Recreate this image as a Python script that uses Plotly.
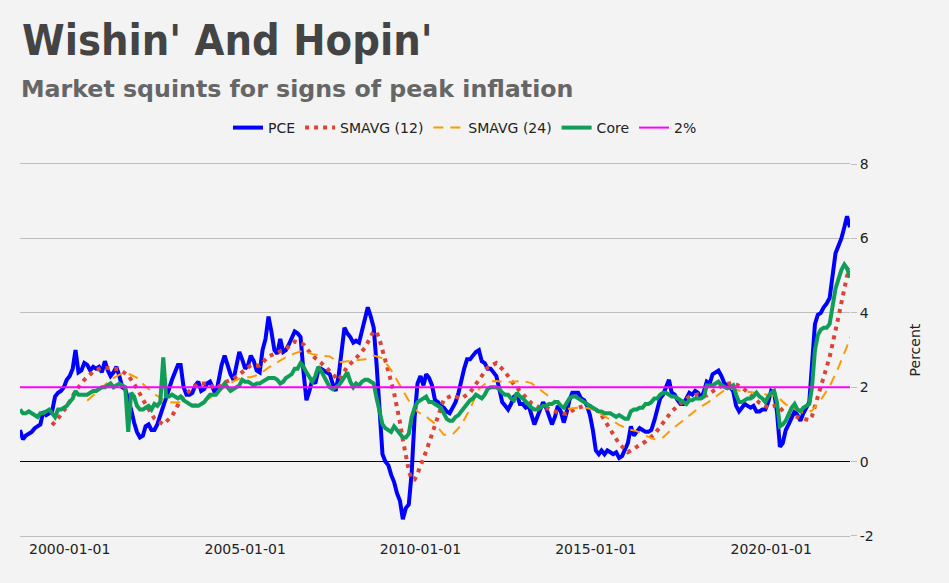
import pandas as pd
import plotly.graph_objects as go

# ---------------- data ----------------
start_month = "1998-08-01"

pce = [
    # 1998 Aug-Dec
    0.85, 0.6, 0.7, 0.75, 0.8,
    # 1999
    0.9, 0.95, 1.0, 1.35, 1.25, 1.3, 1.35, 1.75, 1.85, 1.9, 2.0, 2.2,
    # 2000
    2.3, 2.5, 3.0, 2.4, 2.45, 2.65, 2.6, 2.45, 2.55, 2.5, 2.55, 2.4,
    # 2001
    2.7, 2.45, 2.3, 2.4, 2.55, 2.3, 2.0, 1.95, 1.7, 1.4, 1.05, 0.8,
    # 2002
    0.65, 0.7, 0.95, 1.0, 0.85, 0.85, 1.0, 1.25, 1.45, 1.7, 2.0, 2.2,
    # 2003
    2.4, 2.6, 2.6, 2.0, 1.8, 1.8, 1.85, 2.05, 2.15, 1.9, 1.95, 2.1,
    # 2004
    2.15, 1.95, 1.8, 2.2, 2.6, 2.85, 2.6, 2.35, 2.2, 2.6, 2.95, 2.75,
    # 2005
    2.5, 2.6, 2.85, 2.7, 2.45, 2.4, 3.0, 3.3, 3.9, 3.5, 3.0, 2.9,
    # 2006
    3.3, 2.95, 3.0, 3.15, 3.3, 3.5, 3.45, 3.35, 2.4, 1.65, 1.9, 2.2,
    # 2007
    2.1, 2.45, 2.5, 2.45, 2.4, 2.35, 2.1, 1.9, 2.3, 3.0, 3.6, 3.45,
    # 2008
    3.35, 3.2, 3.25, 3.2, 3.5, 3.9, 4.15, 3.9, 3.6, 2.6, 1.2, 0.2,
    # 2009
    0.0, -0.1, -0.35, -0.55, -0.85, -1.05, -1.55, -1.25, -1.15, -0.3, 1.2, 2.1,
    # 2010
    2.3, 2.05, 2.35, 2.25, 2.05, 1.65, 1.6, 1.5, 1.45, 1.35, 1.3, 1.45,
    # 2011
    1.6, 1.85, 2.2, 2.5, 2.75, 2.75, 2.85, 2.95, 3.0, 2.7, 2.65, 2.5,
    # 2012
    2.5, 2.4, 2.3, 1.95, 1.6, 1.5, 1.4, 1.55, 1.75, 1.8, 1.55, 1.55,
    # 2013
    1.45, 1.5, 1.25, 1.0, 1.2, 1.4, 1.6, 1.45, 1.25, 1.0, 1.2, 1.5,
    # 2014
    1.35, 1.05, 1.3, 1.65, 1.85, 1.85, 1.85, 1.7, 1.65, 1.5, 1.25, 0.85,
    # 2015
    0.3, 0.2, 0.3, 0.2, 0.3, 0.25, 0.2, 0.25, 0.1, 0.15, 0.3, 0.5,
    # 2016
    0.95, 0.7, 0.8, 0.9, 0.85, 0.8, 0.8, 0.85, 1.1, 1.4, 1.7, 1.8,
    # 2017
    2.0, 2.2, 1.85, 1.8, 1.65, 1.55, 1.55, 1.7, 1.85, 1.8, 1.9, 1.85,
    # 2018
    1.7, 1.9, 2.15, 2.1, 2.35, 2.4, 2.45, 2.3, 2.1, 2.05, 2.0, 1.9,
    # 2019
    1.5, 1.35, 1.45, 1.55, 1.5, 1.45, 1.5, 1.35, 1.35, 1.4, 1.4, 1.6,
    # 2020
    1.9, 1.85, 1.35, 0.4, 0.5, 0.85, 1.0, 1.2, 1.35, 1.25, 1.1, 1.3,
    # 2021
    1.45, 1.6, 2.6, 3.7, 3.95, 4.0, 4.15, 4.25, 4.4, 5.1, 5.6, 5.8,
    # 2022 Jan-Apr
    6.0, 6.3, 6.6, 6.3,
]

core = [
    # 1998 Aug-Dec
    1.4, 1.3, 1.3, 1.35, 1.3,
    # 1999
    1.25, 1.2, 1.3, 1.3, 1.35, 1.4, 1.3, 1.2, 1.4, 1.4, 1.45, 1.5,
    # 2000
    1.6, 1.7, 1.9, 1.8, 1.8, 1.8, 1.8, 1.85, 1.9, 1.9, 1.95, 2.0,
    # 2001
    2.0, 2.05, 2.1, 2.0, 2.05, 2.1, 2.05, 2.0, 0.8, 1.85, 1.75, 1.5,
    # 2002
    1.4, 1.4, 1.45, 1.5, 1.4, 1.55, 1.5, 1.6, 2.8, 1.75, 1.75, 1.8,
    # 2003
    1.75, 1.7, 1.75, 1.65, 1.6, 1.55, 1.5, 1.5, 1.5, 1.55, 1.6, 1.7,
    # 2004
    1.8, 1.8, 1.8, 1.9, 2.0, 2.1, 2.0, 1.9, 1.95, 2.0, 2.05, 2.2,
    # 2005
    2.15, 2.15, 2.1, 2.05, 2.1, 2.1, 2.15, 2.2, 2.25, 2.25, 2.25, 2.2,
    # 2006
    2.1, 2.15, 2.25, 2.3, 2.35, 2.5, 2.5, 2.65, 2.55, 2.4, 2.25, 2.15,
    # 2007
    2.3, 2.55, 2.45, 2.3, 2.15, 2.0, 1.95, 2.0, 2.05, 2.15, 2.3, 2.4,
    # 2008
    2.15, 2.0, 2.1, 2.05, 2.15, 2.2, 2.2, 2.15, 2.1, 1.7, 1.3, 1.0,
    # 2009
    0.9, 0.85, 0.8, 0.95, 0.85, 0.75, 0.65, 0.65, 0.75, 1.2, 1.45, 1.6,
    # 2010
    1.65, 1.7, 1.75, 1.6, 1.6, 1.55, 1.5, 1.45, 1.3, 1.15, 1.1, 1.1,
    # 2011
    1.2, 1.25, 1.35, 1.45, 1.55, 1.65, 1.7, 1.8, 1.75, 1.7, 1.8, 1.95,
    # 2012
    2.0, 2.0, 2.0, 1.95, 1.85, 1.8, 1.8, 1.7, 1.65, 1.85, 1.75, 1.7,
    # 2013
    1.6, 1.5, 1.45, 1.4, 1.4, 1.45, 1.5, 1.5, 1.55, 1.55, 1.6, 1.6,
    # 2014
    1.5, 1.45, 1.55, 1.7, 1.75, 1.75, 1.7, 1.65, 1.6, 1.55, 1.5, 1.45,
    # 2015
    1.4, 1.35, 1.35, 1.3, 1.3, 1.3, 1.25, 1.2, 1.25, 1.2, 1.15, 1.15,
    # 2016
    1.35, 1.4, 1.4, 1.45, 1.45, 1.55, 1.55, 1.6, 1.7, 1.7, 1.8, 1.85,
    # 2017
    1.85, 1.8, 1.75, 1.75, 1.7, 1.65, 1.6, 1.55, 1.65, 1.65, 1.7, 1.7,
    # 2018
    1.7, 1.75, 2.05, 2.05, 2.05, 2.1, 2.15, 2.05, 2.0, 1.97, 2.0, 2.05,
    # 2019
    1.8, 1.6, 1.6, 1.65, 1.7, 1.7, 1.75, 1.85, 1.75, 1.7, 1.6, 1.75,
    # 2020
    1.85, 1.9, 1.6, 0.95, 1.0, 1.1, 1.3, 1.45, 1.55, 1.4, 1.35, 1.45,
    # 2021
    1.5, 1.55, 2.0, 3.0, 3.4, 3.55, 3.6, 3.6, 3.7, 4.2, 4.65, 4.9,
    # 2022 Jan-Apr
    5.15, 5.3, 5.2, 4.95,
]

sma12_dates = [
    "1999-07-01", "1999-09-01", "1999-12-01", "2000-03-01", "2000-06-01", "2000-09-01",
    "2000-12-01", "2001-03-01", "2001-06-01", "2001-09-01", "2001-12-01", "2002-03-01",
    "2002-06-01", "2002-09-01", "2002-12-01", "2003-03-01", "2003-06-01", "2003-09-01",
    "2003-12-01", "2004-03-01", "2004-06-01", "2004-09-01", "2004-12-01", "2005-03-01",
    "2005-06-01", "2005-09-01", "2005-12-01", "2006-03-01", "2006-06-01", "2006-09-01",
    "2006-12-01", "2007-03-01", "2007-06-01", "2007-09-01", "2007-12-01", "2008-03-01",
    "2008-06-01", "2008-09-01", "2008-10-01", "2008-11-01", "2008-12-01", "2009-01-01",
    "2009-02-01", "2009-03-01", "2009-04-01", "2009-05-01", "2009-06-01", "2009-07-01",
    "2009-08-01", "2009-09-01", "2009-10-01", "2009-11-01", "2009-12-01", "2010-01-01",
    "2010-02-01", "2010-03-01", "2010-04-01", "2010-05-01", "2010-06-01", "2010-09-01",
    "2010-12-01", "2011-03-01", "2011-06-01", "2011-09-01", "2011-12-01", "2012-03-01",
    "2012-06-01", "2012-09-01", "2012-12-01", "2013-03-01", "2013-06-01", "2013-09-01",
    "2013-12-01", "2014-03-01", "2014-06-01", "2014-09-01", "2014-12-01", "2015-03-01",
    "2015-06-01", "2015-09-01", "2015-12-01", "2016-03-01", "2016-06-01", "2016-09-01",
    "2016-12-01", "2017-03-01", "2017-06-01", "2017-09-01", "2017-12-01", "2018-03-01",
    "2018-06-01", "2018-09-01", "2018-12-01", "2019-03-01", "2019-06-01", "2019-09-01",
    "2019-12-01", "2020-03-01", "2020-06-01", "2020-09-01", "2020-12-01", "2021-02-01",
    "2021-03-01", "2021-06-01", "2021-09-01", "2021-12-01", "2022-03-01", "2022-04-01",
]
sma12 = [
    0.98, 1.16, 1.48, 1.90, 2.20, 2.42,
    2.53, 2.50, 2.48, 2.32, 1.97, 1.54,
    1.16, 1.00, 1.22, 1.66, 1.90, 2.10,
    2.10, 1.96, 2.13, 2.22, 2.42, 2.59,
    2.58, 2.83, 2.93, 3.03, 3.23, 3.15,
    2.85, 2.66, 2.43, 2.19, 2.55, 2.78,
    3.06, 3.51, 3.48, 3.28, 3.00, 2.73,
    2.45, 2.15, 1.84, 1.48, 1.06, 0.59,
    0.16, -0.24, -0.48, -0.48, -0.32, -0.13,
    0.05, 0.28, 0.51, 0.75, 0.98, 1.68,
    1.78, 1.69, 1.86, 2.21, 2.53, 2.65,
    2.41, 2.07, 1.82, 1.57, 1.45, 1.42,
    1.32, 1.28, 1.42, 1.50, 1.49, 1.25,
    0.86, 0.48, 0.25, 0.39, 0.54, 0.73,
    1.05, 1.35, 1.56, 1.75, 1.81, 1.78,
    1.94, 2.08, 2.12, 2.00, 1.80, 1.58,
    1.45, 1.52, 1.29, 1.23, 1.17, 1.11,
    1.22, 2.04, 2.81, 3.88, 4.99, 5.20,
]

sma24_dates = [
    "2000-07-01", "2000-09-01", "2000-12-01", "2001-03-01", "2001-06-01", "2001-09-01",
    "2001-12-01", "2002-03-01", "2002-06-01", "2002-09-01", "2002-12-01", "2003-03-01",
    "2003-06-01", "2003-09-01", "2003-12-01", "2004-03-01", "2004-06-01", "2004-09-01",
    "2004-12-01", "2005-03-01", "2005-06-01", "2005-09-01", "2005-12-01", "2006-03-01",
    "2006-06-01", "2006-09-01", "2006-12-01", "2007-03-01", "2007-06-01", "2007-09-01",
    "2007-12-01", "2008-03-01", "2008-06-01", "2008-09-01", "2008-12-01", "2009-03-01",
    "2009-06-01", "2009-09-01", "2009-12-01", "2010-03-01", "2010-06-01", "2010-09-01",
    "2010-12-01", "2011-03-01", "2011-06-01", "2011-09-01", "2011-12-01", "2012-03-01",
    "2012-06-01", "2012-09-01", "2012-12-01", "2013-03-01", "2013-06-01", "2013-09-01",
    "2013-12-01", "2014-03-01", "2014-06-01", "2014-09-01", "2014-12-01", "2015-03-01",
    "2015-06-01", "2015-09-01", "2015-12-01", "2016-03-01", "2016-06-01", "2016-09-01",
    "2016-12-01", "2017-03-01", "2017-06-01", "2017-09-01", "2017-12-01", "2018-03-01",
    "2018-06-01", "2018-09-01", "2018-12-01", "2019-03-01", "2019-06-01", "2019-09-01",
    "2019-12-01", "2020-03-01", "2020-06-01", "2020-09-01", "2020-12-01", "2021-03-01",
    "2021-06-01", "2021-09-01", "2021-12-01", "2022-03-01", "2022-04-01",
]
sma24 = [
    1.64, 1.79, 2.01, 2.20, 2.34, 2.37,
    2.25, 2.02, 1.82, 1.66, 1.59, 1.60,
    1.53, 1.55, 1.66, 1.81, 2.01, 2.16,
    2.26, 2.27, 2.35, 2.53, 2.67, 2.81,
    2.91, 2.99, 2.89, 2.85, 2.83, 2.67,
    2.70, 2.72, 2.75, 2.85, 2.78, 2.46,
    2.06, 1.64, 1.34, 1.21, 1.02, 0.72,
    0.73, 0.98, 1.42, 1.95, 2.15, 2.17,
    2.13, 2.14, 2.17, 2.11, 1.93, 1.74,
    1.57, 1.42, 1.44, 1.46, 1.40, 1.26,
    1.14, 0.99, 0.87, 0.82, 0.70, 0.60,
    0.65, 0.87, 1.05, 1.24, 1.43, 1.57,
    1.75, 1.92, 1.96, 1.89, 1.87, 1.83,
    1.78, 1.76, 1.54, 1.41, 1.31, 1.37,
    1.66, 2.02, 2.53, 3.10, 3.35,
]

target_level = 2

series_names = ["PCE", "SMAVG (12)", "SMAVG (24)", "Core", "2%"]
title_text = "Wishin' And Hopin'"
subtitle_text = "Market squints for signs of peak inflation"
y_title = "Percent"
y_tickvals = [-2, 0, 2, 4, 6, 8]
y_ticktext = ["-2", "0", "2", "4", "6", "8"]

# ---------------- figure ----------------
dates = pd.date_range(start_month, periods=len(pce), freq="MS")
bg = "#f3f3f3"
grid = "#bdbdbd"

fig = go.Figure()
fig.add_trace(go.Scatter(x=dates, y=pce, mode="lines", name=series_names[0],
                         line=dict(color="#0000ff", width=4)))
fig.add_trace(go.Scatter(x=pd.to_datetime(sma12_dates), y=sma12, mode="lines",
                         name=series_names[1],
                         line=dict(color="#db4437", width=4, dash="4px,5px")))
fig.add_trace(go.Scatter(x=pd.to_datetime(sma24_dates), y=sma24, mode="lines",
                         name=series_names[2],
                         line=dict(color="#ff9900", width=2, dash="10px,7px")))
fig.add_trace(go.Scatter(x=dates, y=core, mode="lines", name=series_names[3],
                         line=dict(color="#0f9d58", width=4)))
fig.add_trace(go.Scatter(x=dates, y=[target_level] * len(dates), mode="lines",
                         name=series_names[4],
                         line=dict(color="#ff00ff", width=2)))

fig.update_layout(
    width=949, height=583,
    margin=dict(l=20, r=99, t=161, b=47),
    paper_bgcolor=bg, plot_bgcolor=bg,
    font=dict(family="DejaVu Sans", size=14, color="#222"),
    title=dict(text=title_text, xref="container", yref="container",
               x=22 / 949, xanchor="left", y=1 - 40 / 583, yanchor="middle",
               font=dict(family="DejaVu Sans Condensed, DejaVu Sans", size=43,
                         color="#444", weight="bold")),
    legend=dict(orientation="h", xref="container", yref="container",
                x=0.49, xanchor="center", y=1 - 128 / 583, yanchor="middle",
                font=dict(size=14, color="#222"), bgcolor="rgba(0,0,0,0)",
                itemwidth=30),
    annotations=[dict(text=subtitle_text, xref="paper", yref="paper",
                      x=-1 / 830, xanchor="left", y=(536 - 85) / 375, yanchor="middle",
                      showarrow=False,
                      font=dict(family="DejaVu Sans", size=23.7,
                                color="#666", weight="bold"))],
    showlegend=True,
    hovermode=False,
)
fig.update_xaxes(type="date", range=[dates[0], dates[-1]], tickformat="%Y-%m-%d",
                 dtick="M60", tick0="2000-01-01", showgrid=False, zeroline=False,
                 showline=True, mirror=True, linecolor=grid, linewidth=1,
                 ticks="", tickfont=dict(size=14, color="#222"))
fig.update_yaxes(side="right", range=[-2, 8], tickvals=y_tickvals, ticktext=y_ticktext,
                 showgrid=True, gridcolor=grid, gridwidth=1, zeroline=True,
                 zerolinecolor="#000000", zerolinewidth=1, showline=False,
                 ticks="outside", ticklen=6, tickcolor=grid,
                 tickfont=dict(size=14, color="#222"),
                 title=dict(text=y_title, standoff=37, font=dict(size=14, color="#222")))

fig.write_html("out.html")
